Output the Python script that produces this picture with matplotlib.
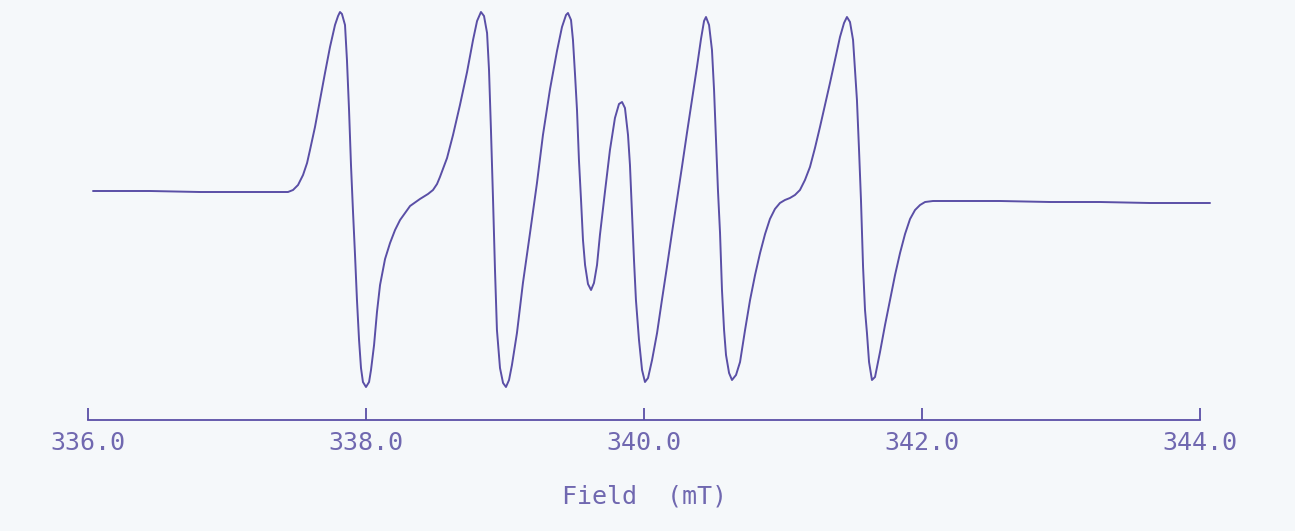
import matplotlib
matplotlib.use("Agg")
import matplotlib.pyplot as plt

# EPR spectrum: field in mT, signal in arbitrary units
field_mT = [
    336.036, 336.446, 336.806, 337.165, 337.381, 337.439, 337.475, 337.511, 337.547, 337.576,
    337.597, 337.633, 337.669, 337.705, 337.741, 337.777, 337.799, 337.813, 337.827, 337.849,
    337.863, 337.878, 337.892, 337.906, 337.921, 337.935, 337.950, 337.964, 337.978, 338.000,
    338.022, 338.036, 338.058, 338.079, 338.101, 338.137, 338.173, 338.209, 338.245, 338.317,
    338.388, 338.446, 338.482, 338.511, 338.532, 338.583, 338.626, 338.676, 338.727, 338.770,
    338.799, 338.827, 338.849, 338.871, 338.885, 338.899, 338.914, 338.928, 338.942, 338.964,
    338.986, 339.007, 339.029, 339.050, 339.086, 339.129, 339.180, 339.230, 339.273, 339.324,
    339.374, 339.410, 339.439, 339.453, 339.475, 339.489, 339.504, 339.518, 339.532, 339.547,
    339.561, 339.576, 339.597, 339.619, 339.640, 339.662, 339.683, 339.719, 339.755, 339.791,
    339.820, 339.842, 339.863, 339.885, 339.899, 339.914, 339.928, 339.942, 339.964, 339.986,
    340.007, 340.029, 340.058, 340.094, 340.129, 340.165, 340.201, 340.237, 340.273, 340.309,
    340.345, 340.381, 340.410, 340.432, 340.446, 340.468, 340.489, 340.504, 340.518, 340.532,
    340.547, 340.561, 340.576, 340.590, 340.612, 340.633, 340.662, 340.691, 340.727, 340.763,
    340.799, 340.835, 340.871, 340.906, 340.942, 340.978, 341.014, 341.050, 341.086, 341.122,
    341.158, 341.194, 341.230, 341.266, 341.302, 341.338, 341.374, 341.410, 341.439, 341.460,
    341.482, 341.504, 341.518, 341.532, 341.547, 341.561, 341.576, 341.590, 341.604, 341.619,
    341.640, 341.662, 341.698, 341.734, 341.770, 341.806, 341.842, 341.878, 341.914, 341.950,
    341.986, 342.022, 342.079, 342.273, 342.561, 342.921, 343.281, 343.640, 344.072,
]
signal = [
    6, 6, 5, 5, 5, 5, 7, 12, 22, 34,
    47, 70, 97, 124, 150, 172, 181, 185, 183, 172,
    137, 87, 32, -13, -58, -103, -143, -171, -185, -190,
    -185, -173, -148, -115, -88, -62, -46, -33, -23, -9,
    -2, 3, 7, 13, 20, 39, 62, 92, 125, 157,
    176, 185, 181, 164, 127, 67, -3, -73, -133, -171,
    -186, -190, -183, -168, -136, -86, -36, 14, 62, 108,
    146, 170, 182, 184, 177, 157, 122, 87, 37, -3,
    -43, -68, -87, -93, -86, -68, -38, 5, 47, 79,
    93, 95, 89, 62, 32, -18, -63, -103, -143, -173,
    -185, -181, -163, -136, -103, -70, -36, -3, 30, 64,
    97, 130, 158, 176, 180, 172, 147, 107, 57, 7,
    -36, -93, -133, -158, -176, -183, -178, -165, -133, -103,
    -78, -56, -37, -22, -12, -6, -3, -1, 2, 7,
    17, 30, 49, 70, 92, 114, 137, 160, 174, 180,
    175, 157, 127, 97, 47, -3, -70, -113, -136, -165,
    -183, -180, -155, -128, -103, -78, -56, -37, -22, -13,
    -8, -5, -4, -4, -4, -5, -5, -6, -6,
]

tick_values = [336.0, 338.0, 340.0, 342.0, 344.0]
tick_labels = ["336.0", "338.0", "340.0", "342.0", "344.0"]
x_label = "Field  (mT)"

line_color = "#5a4fa6"
text_color = "#7068b0"
paper = "#f5f8fa"

fig = plt.figure(figsize=(12.95, 5.31), dpi=100, facecolor=paper)
ax = fig.add_axes([88 / 1295, 111 / 531, 1112 / 1295, 420 / 531])
ax.set_facecolor(paper)

ax.plot(field_mT, signal, color=line_color, lw=1.4, clip_on=False,
        solid_joinstyle="round", solid_capstyle="round")

ax.set_xlim(336.0, 344.0)
ax.set_ylim(-223, 197)

for side in ["top", "left", "right"]:
    ax.spines[side].set_visible(False)
ax.spines["bottom"].set_color(line_color)
ax.spines["bottom"].set_linewidth(1.3)

ax.set_yticks([])
ax.set_xticks(tick_values)
ax.set_xticklabels(tick_labels)
ax.tick_params(axis="x", direction="in", length=9, width=1.3, color=line_color,
               pad=8, labelsize=18, labelcolor=text_color)
for lab in ax.get_xticklabels():
    lab.set_fontfamily("DejaVu Sans Mono")

ax.set_xlabel(x_label, fontsize=18, color=text_color, family="DejaVu Sans Mono", labelpad=21)

fig.savefig("out.png", dpi=100, facecolor=paper)
